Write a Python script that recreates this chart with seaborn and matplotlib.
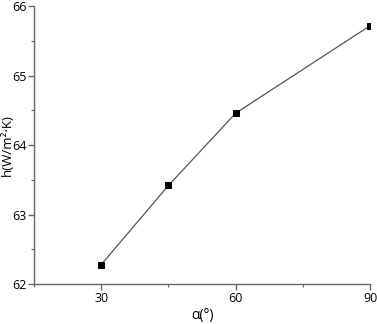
import matplotlib
matplotlib.use("Agg")
import matplotlib.pyplot as plt
import pandas as pd
import seaborn as sns
from matplotlib.ticker import MultipleLocator

# data
alpha_deg = [30, 45, 60, 90]
h_values = [62.28, 63.42, 64.46, 65.72]

df = pd.DataFrame({"alpha": alpha_deg, "h": h_values})

sns.set_theme(style="ticks")
plt.rcParams["font.family"] = ["Open Sans", "DejaVu Sans"]

fig = plt.figure(figsize=(3.77, 3.24), dpi=100)
ax = fig.add_axes([0.090, 0.123, 0.892, 0.858])

sns.lineplot(data=df, x="alpha", y="h", ax=ax, color="#555555", linewidth=0.9,
             marker="s", markersize=5, markerfacecolor="black",
             markeredgecolor="black")

ax.set_xlim(15, 90)
ax.set_ylim(62, 66)
ax.set_xticks([30, 60, 90])
ax.xaxis.set_minor_locator(MultipleLocator(15))
ax.set_yticks([62, 63, 64, 65, 66])
ax.yaxis.set_minor_locator(MultipleLocator(0.5))

ax.set_xlabel("α(°)", fontsize=10, color="black")
ax.set_ylabel("h(W/m²·K)", fontsize=9.5, color="black")
ax.xaxis.set_label_coords(0.5, -0.085)
ax.yaxis.set_label_coords(-0.059, 0.5)

for s in ["top", "right"]:
    ax.spines[s].set_visible(False)
for s in ["left", "bottom"]:
    ax.spines[s].set_color("#666666")
    ax.spines[s].set_linewidth(1.0)

ax.tick_params(axis="both", which="major", direction="out", length=4,
               width=1.0, color="#666666", labelsize=9, labelcolor="black",
               pad=1.5)
ax.tick_params(axis="both", which="minor", direction="out", length=2.5,
               width=0.8, color="#666666")

fig.savefig("out.png", dpi=100)
